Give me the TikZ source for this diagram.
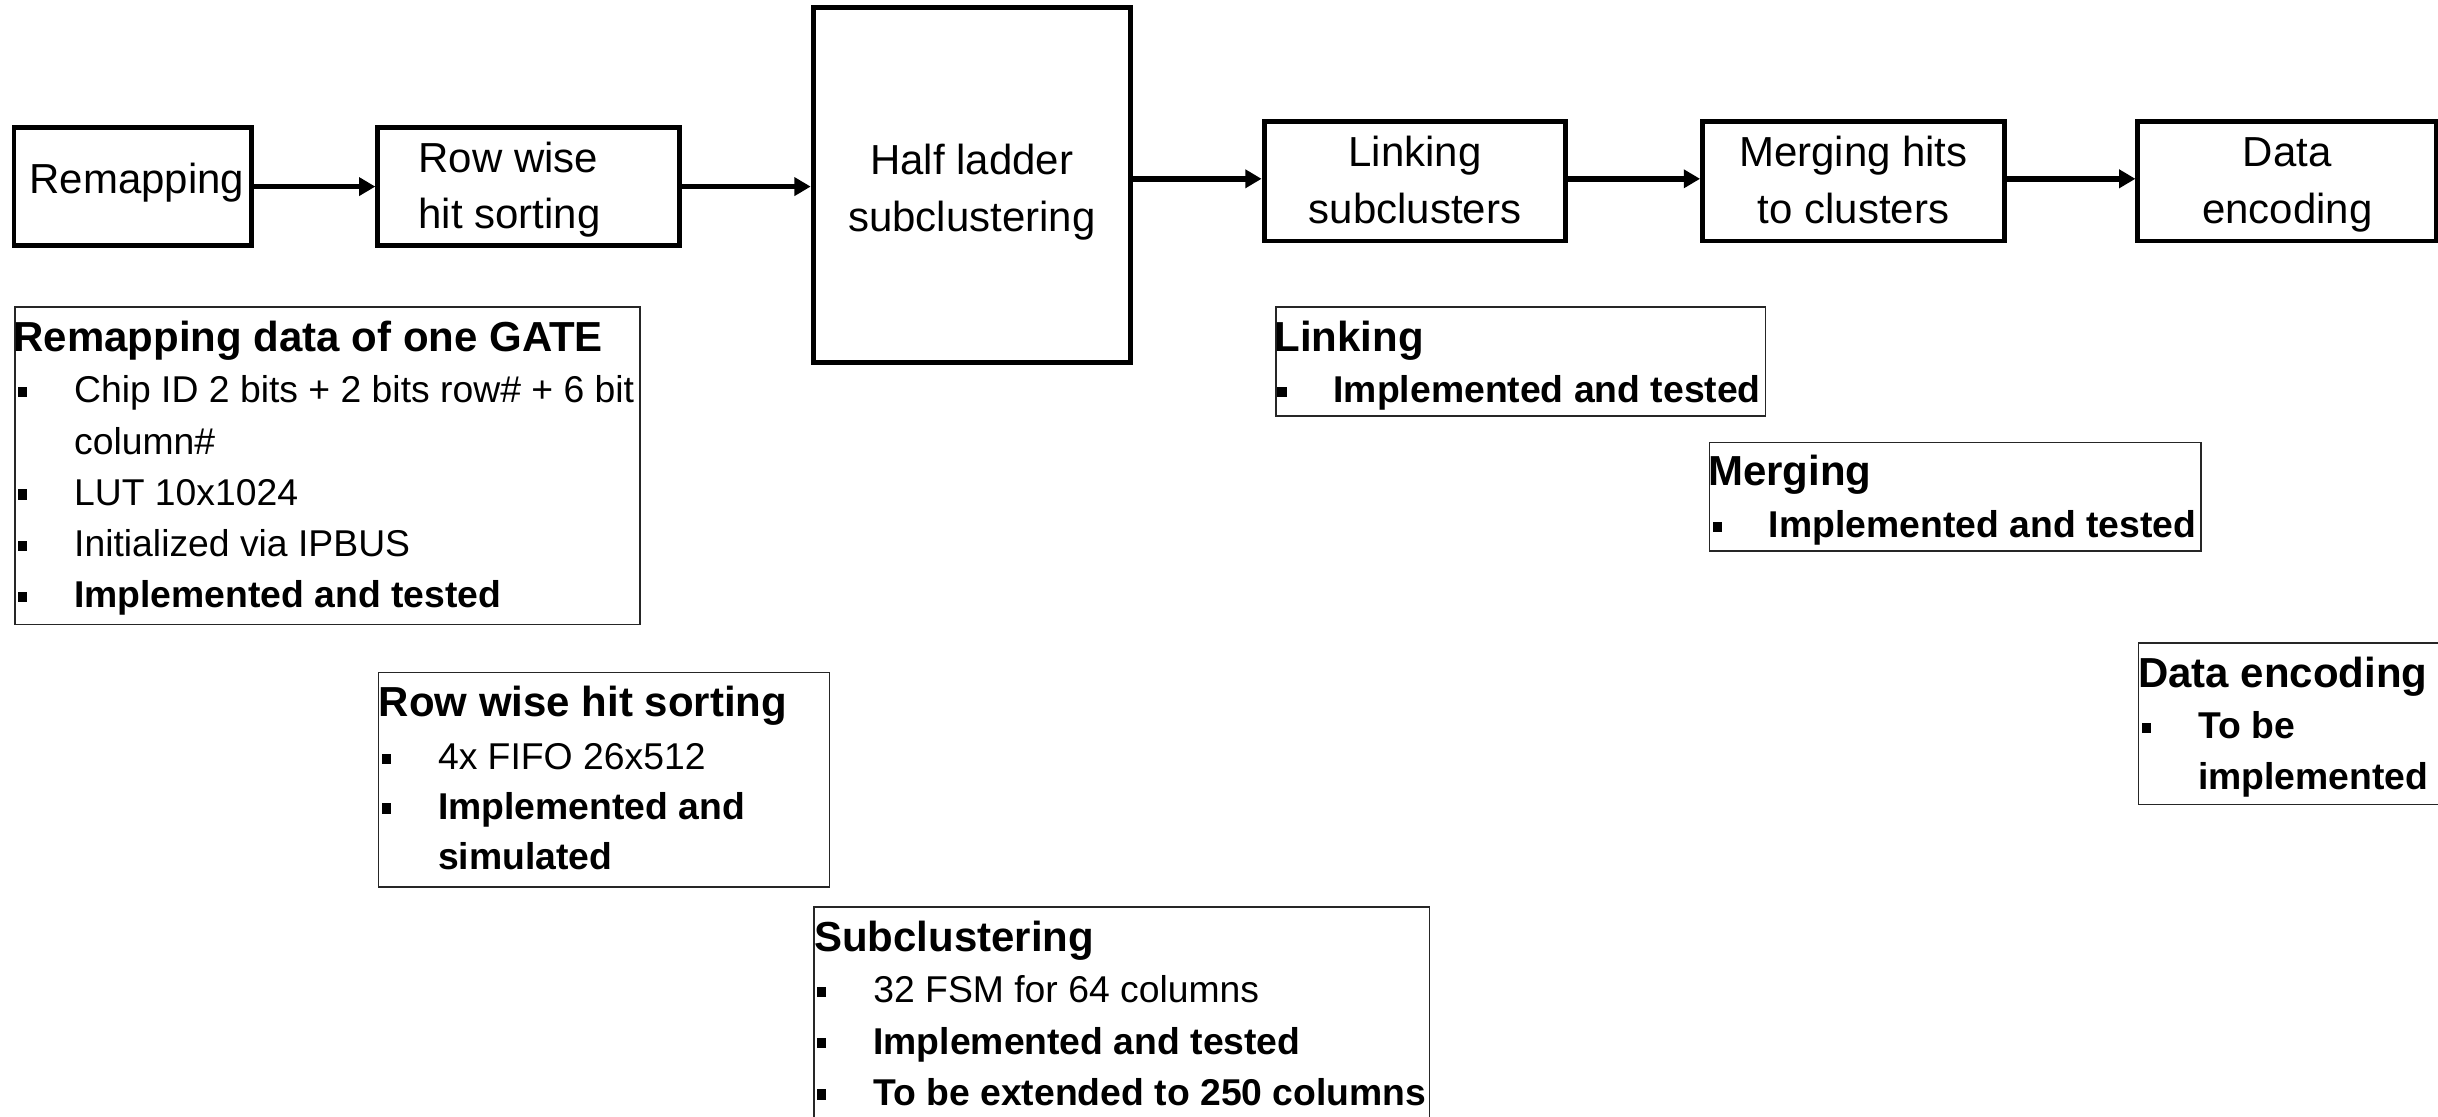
\documentclass[tikz,border=0pt]{standalone}
\usepackage{fontspec}
\setmainfont{Liberation Sans}
\usetikzlibrary{arrows.meta}
\begin{document}
\begin{tikzpicture}[x=1pt,y=-1pt,
  stage/.style={draw, line width=3.2pt, inner sep=0pt},
  stagetext/.style={anchor=base, inner sep=0pt, font=\fontsize{27}{36}\selectfont},
  flow/.style={line width=3.6pt, -{Triangle[length=10.5pt,width=11.5pt]}},
  infobox/.style={draw=black!85, line width=1pt, inner sep=0pt, anchor=north west},
  heading/.style={anchor=base west, inner sep=0pt, font=\fontsize{27}{32}\selectfont\bfseries},
  item/.style={anchor=base west, inner sep=0pt, font=\fontsize{24}{30}\selectfont},
  bitem/.style={anchor=base west, inner sep=0pt, font=\fontsize{24}{30}\selectfont\bfseries},
  dot/.style={fill, inner sep=0pt, minimum width=6pt, minimum height=6.6pt}
]
\fill[white] (0,0) rectangle (1568,718);
\useasboundingbox (0,0) rectangle (1568,718);

% processing chain
\node[stage, minimum width=153, minimum height=76] (remap) at (85.5,120) {};
\node[stagetext] (remapt) at (88,124.5) {Remapping};

\node[stage, minimum width=194, minimum height=76] (rws) at (340,120) {};
\node[stagetext, anchor=base west] (rwst1) at (269,111) {Row wise};
\node[stagetext, anchor=base west] (rwst2) at (269,147) {hit sorting};

\node[stage, minimum width=204, minimum height=228] (hl) at (625,119) {};
\node[stagetext] (hlt1) at (625,112) {Half ladder};
\node[stagetext] (hlt2) at (625,149) {subclustering};

\node[stage, minimum width=194, minimum height=77] (link) at (910,116.5) {};
\node[stagetext] (linkt1) at (910,107) {Linking};
\node[stagetext] (linkt2) at (910,144) {subclusters};

\node[stage, minimum width=194, minimum height=77] (merge) at (1192,116.5) {};
\node[stagetext] (merget1) at (1192,107) {Merging hits};
\node[stagetext] (merget2) at (1192,144) {to clusters};

\node[stage, minimum width=192, minimum height=77] (enc) at (1471,116.5) {};
\node[stagetext] (enct1) at (1471,107) {Data};
\node[stagetext] (enct2) at (1471,144) {encoding};

\coordinate (upper) at (0,115);
\draw[flow] (remap.east) -- (rws.west);
\draw[flow] (rws.east) -- (rws.east -| hl.west);
\draw[flow] (hl.east |- upper) -- (link.west |- upper);
\draw[flow] (link.east |- upper) -- (merge.west |- upper);
\draw[flow] (merge.east |- upper) -- (enc.west |- upper);

% remapping details
\node[infobox, minimum width=402, minimum height=204] (remapbox) at (9,197) {};
\node[heading] (remaph) at (8.5,226) {Remapping data of one GATE};
\node[dot] (remapd1) at (14.5,252) {};
\node[item] (remapi1) at (47.5,259) {Chip ID 2 bits + 2 bits row\# + 6 bit};
\node[item] (remapi1b) at (47.5,292) {column\#};
\node[dot] (remapd2) at (14.5,318) {};
\node[item] (remapi2) at (47.5,325) {LUT 10x1024};
\node[dot] (remapd3) at (14.5,351) {};
\node[item] (remapi3) at (47.5,358) {Initialized via IPBUS};
\node[dot] (remapd4) at (14.5,384) {};
\node[bitem] (remapi4) at (47.5,391) {Implemented and tested};

% sorting details
\node[infobox, minimum width=290, minimum height=138] (sortbox) at (243,432) {};
\node[heading] (sorth) at (243.5,461) {Row wise hit sorting};
\node[dot] (sortd1) at (248.5,488) {};
\node[item] (sorti1) at (281.5,495) {4x FIFO 26x512};
\node[dot] (sortd2) at (248.5,520) {};
\node[bitem] (sorti2) at (281.5,527) {Implemented and};
\node[bitem] (sorti2b) at (281.5,559) {simulated};

% subclustering details
\node[infobox, minimum width=396, minimum height=140] (subbox) at (523,583) {};
\node[heading] (subh) at (523.5,612) {Subclustering};
\node[dot] (subd1) at (528.5,638) {};
\node[item] (subi1) at (561.5,645) {32 FSM for 64 columns};
\node[dot] (subd2) at (528.5,671) {};
\node[bitem] (subi2) at (561.5,678) {Implemented and tested};
\node[dot] (subd3) at (528.5,704) {};
\node[bitem] (subi3) at (561.5,711) {To be extended to 250 columns};

% linking details
\node[infobox, minimum width=315, minimum height=70] (linkbox) at (820,197) {};
\node[heading] (linkh) at (819.5,226) {Linking};
\node[dot] (linkd1) at (824.5,252) {};
\node[bitem] (linki1) at (857.5,259) {Implemented and tested};

% merging details
\node[infobox, minimum width=316, minimum height=70] (mergebox) at (1099,284) {};
\node[heading] (mergeh) at (1098.5,312) {Merging};
\node[dot] (merged1) at (1104.5,339) {};
\node[bitem] (mergei1) at (1137.5,346) {Implemented and tested};

% encoding details
\node[infobox, minimum width=200, minimum height=104] (encbox) at (1375,413) {};
\node[heading] (ench) at (1375,442) {Data encoding};
\node[dot] (encd1) at (1380.5,468) {};
\node[bitem] (enci1) at (1413.5,475) {To be};
\node[bitem] (enci1b) at (1413.5,508) {implemented};
\end{tikzpicture}
\end{document}
